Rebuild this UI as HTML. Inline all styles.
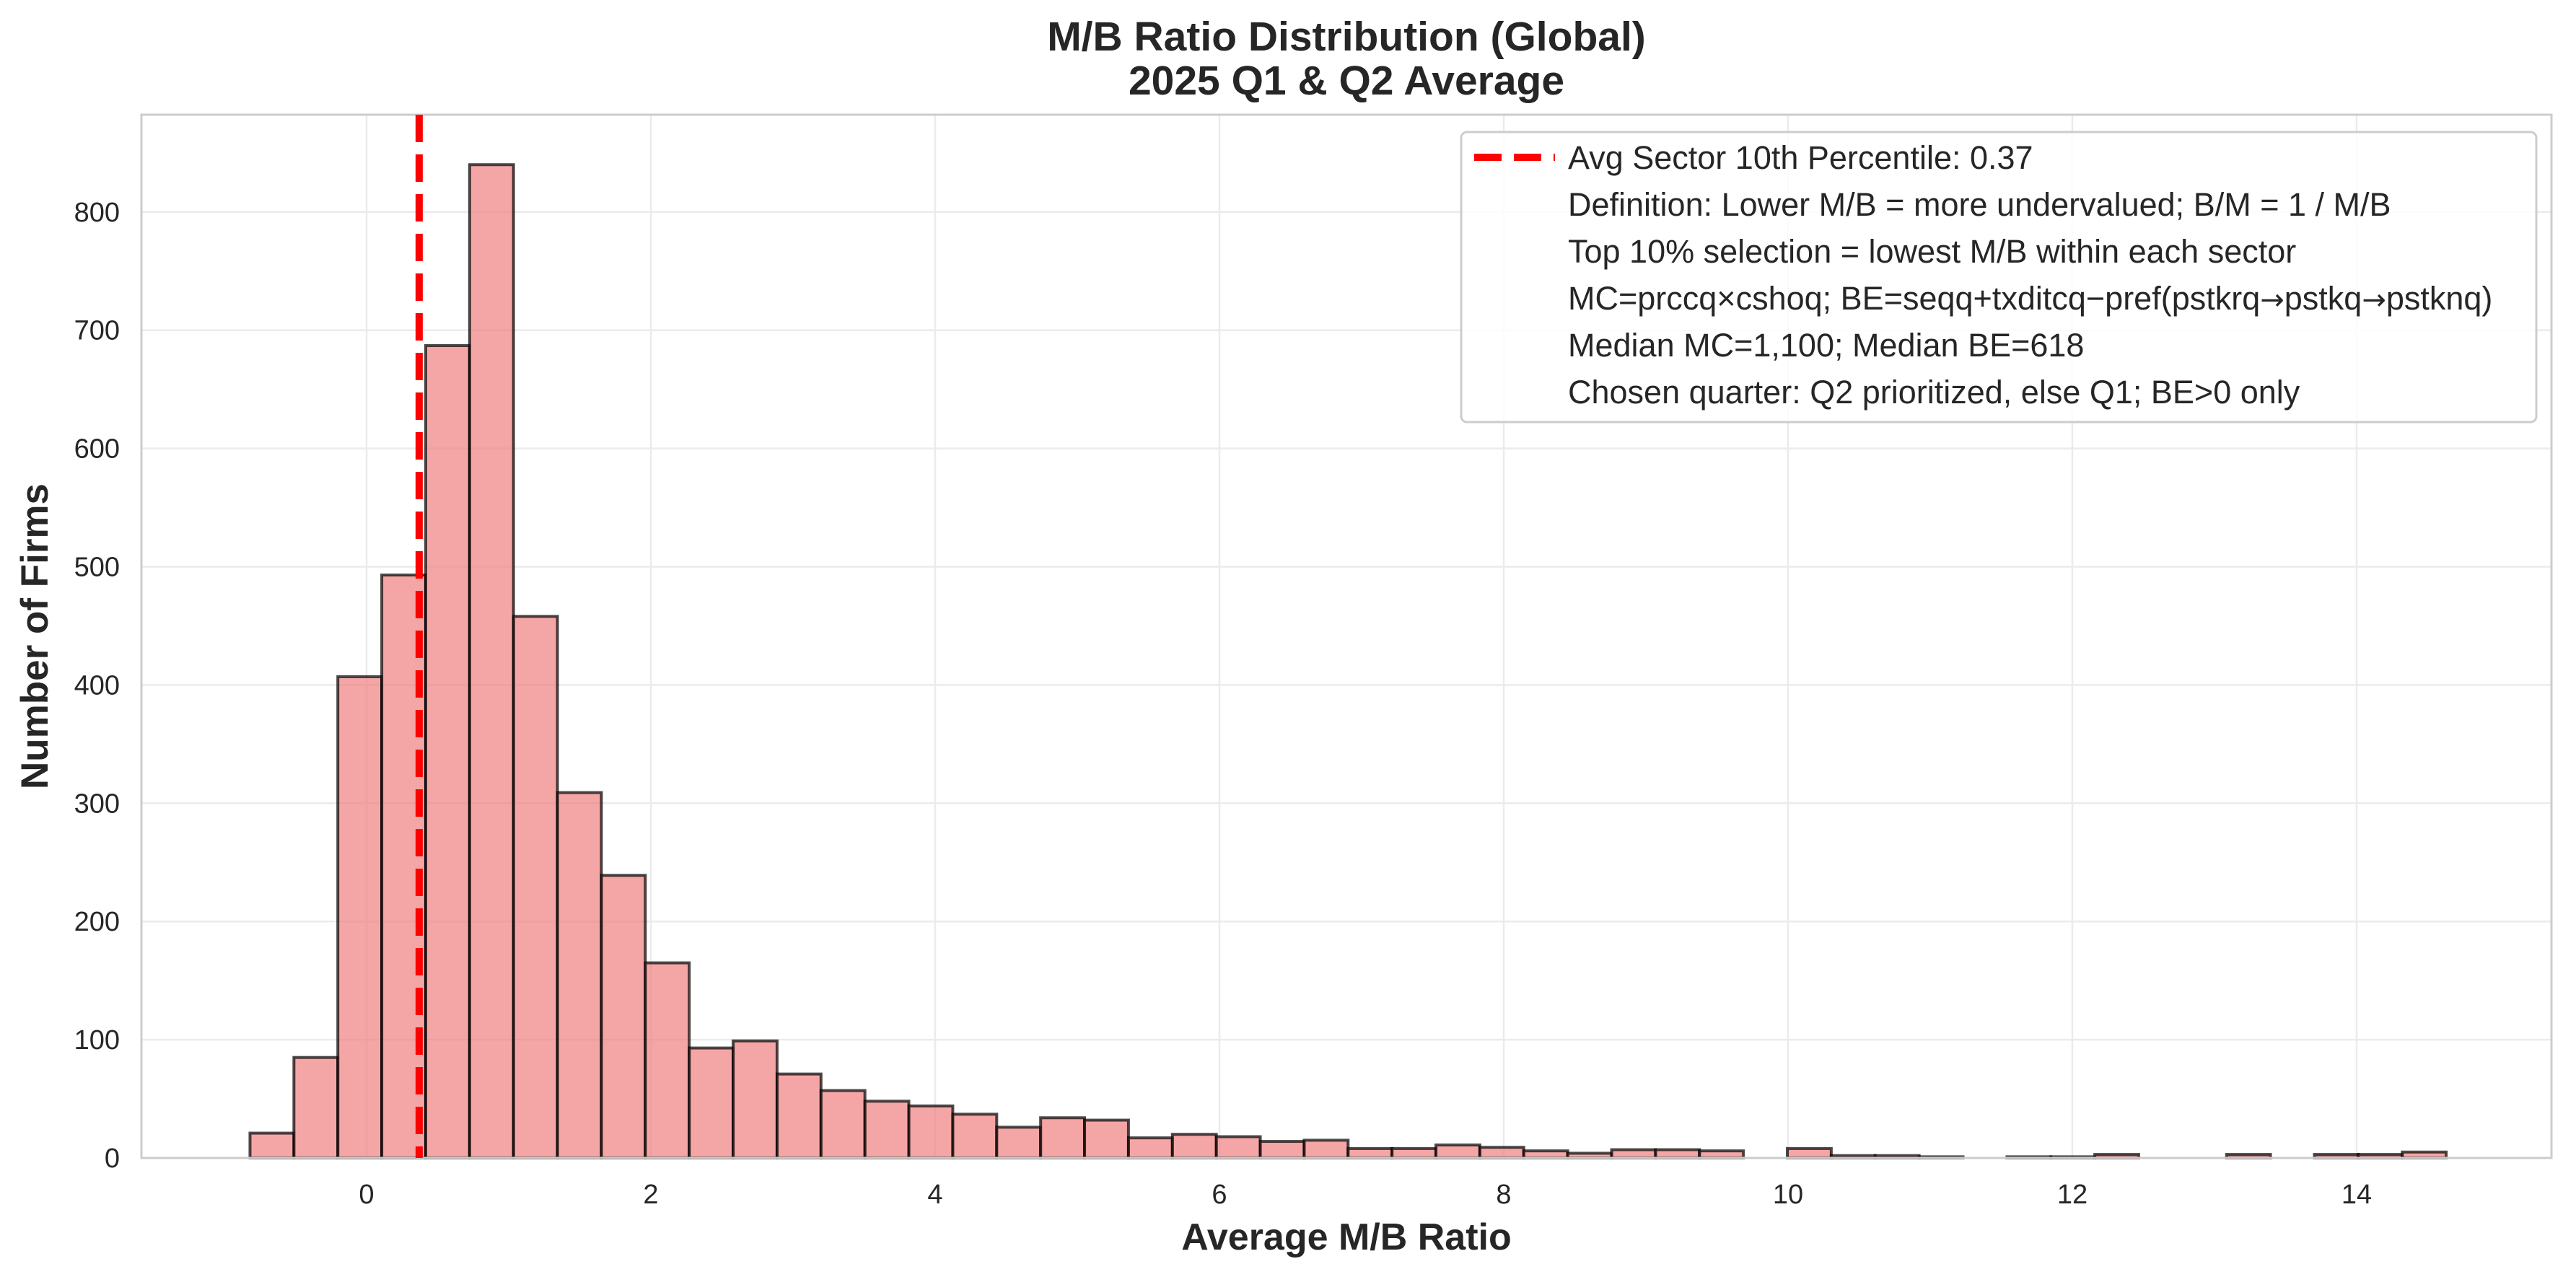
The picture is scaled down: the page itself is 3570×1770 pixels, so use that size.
<!DOCTYPE html>
<html><head><meta charset="utf-8"><style>
html,body{margin:0;padding:0;background:#fff;}
svg{display:block;font-family:"Liberation Sans",Arial,sans-serif;}
</style></head><body>
<svg id="chart" width="3570" height="1770" viewBox="0 0 3570 1770" xmlns="http://www.w3.org/2000/svg">
<rect width="3570" height="1770" fill="#fff"/>
<g id="grid"></g>
<g id="bars"></g>
<g id="ticks"></g>
<rect x="196" y="159" width="3340" height="1446" fill="none" stroke="#cccccc" stroke-width="3"/>
<text x="1866" y="70" text-anchor="middle" font-size="57" font-weight="bold" fill="#262626">M/B Ratio Distribution (Global)</text>
<text x="1866" y="131" text-anchor="middle" font-size="57" font-weight="bold" fill="#262626">2025 Q1 &amp; Q2 Average</text>
<text x="1866" y="1732" text-anchor="middle" font-size="52" font-weight="bold" fill="#262626">Average M/B Ratio</text>
<text transform="translate(66,882) rotate(-90)" text-anchor="middle" font-size="53" font-weight="bold" fill="#262626">Number of Firms</text>
<g>
<rect x="2025" y="183" width="1490" height="402" rx="8" fill="#fff" fill-opacity="0.85" stroke="#cccccc" stroke-width="3"/>
<line x1="2043" y1="218" x2="2155" y2="218" stroke="#ff0000" stroke-width="10" stroke-dasharray="38 17"/>
<g font-size="45" fill="#262626">
<text x="2173" y="234">Avg Sector 10th Percentile: 0.37</text>
<text x="2173" y="299">Definition: Lower M/B = more undervalued; B/M = 1 / M/B</text>
<text x="2173" y="364">Top 10% selection = lowest M/B within each sector</text>
<text x="2173" y="429">MC=prccq×cshoq; BE=seqq+txditcq−pref(pstkrq<tspan font-family="DejaVu Sans" font-size="40">→</tspan>pstkq<tspan font-family="DejaVu Sans" font-size="40">→</tspan>pstknq)</text>
<text x="2173" y="494">Median MC=1,100; Median BE=618</text>
<text x="2173" y="559">Chosen quarter: Q2 prioritized, else Q1; BE&gt;0 only</text>
</g>
</g>
<line id="refline" y1="159" y2="1605" stroke="#ff0000" stroke-width="10" stroke-dasharray="38 17"/>
</svg>
<script>
const binStart = -0.82;
const binWidth = 0.309;
const counts = [21,85,407,493,687,840,458,309,239,165,93,99,71,57,48,44,37,26,34,32,17,20,18,14,15,8,8,11,9,6,4,7,7,6,0,8,2,2,1,0,1,1,3,0,0,3,0,3,3,5];
const xTicks = [0,2,4,6,8,10,12,14];
const yTicks = [0,100,200,300,400,500,600,700,800];
const percentile10 = 0.37;

const L=196,R=3536,T=159,B=1605;
const xs = v => 508 + v*197;
const ys = v => B - v*1.639;
const NS="http://www.w3.org/2000/svg";
function mk(tag,attrs,parent){const e=document.createElementNS(NS,tag);for(const k in attrs)e.setAttribute(k,attrs[k]);parent.appendChild(e);return e;}
const grid=document.getElementById('grid'),bars=document.getElementById('bars'),ticks=document.getElementById('ticks');
xTicks.forEach(t=>{
  const g=mk('line',{x1:xs(t),x2:xs(t),y1:T,y2:B,stroke:'#ebebeb','stroke-width':2.5},grid);
  
  
  const tx=mk('text',{x:xs(t),y:1668,'text-anchor':'middle','font-size':38,fill:'#262626'},ticks);
  tx.textContent=t;
  
  
});
yTicks.forEach(t=>{
  const g=mk('line',{x1:L,x2:R,y1:ys(t),y2:ys(t),stroke:'#ebebeb','stroke-width':2.5},grid);
  
  
  const tx=mk('text',{x:166,y:ys(t)+13,'text-anchor':'end','font-size':38,fill:'#262626'},ticks);
  tx.textContent=t;
  
  
});
counts.forEach((c,i)=>{
  const x0=xs(binStart+i*binWidth),x1=xs(binStart+(i+1)*binWidth);
  const r=mk('rect',{x:x0,y:ys(c),width:x1-x0,height:B-ys(c),fill:'#f08080','fill-opacity':0.7,stroke:'#000','stroke-opacity':0.7,'stroke-width':4},bars);
  
  
});
const rl=document.getElementById('refline');
rl.setAttribute('x1',xs(percentile10));rl.setAttribute('x2',xs(percentile10));
</script>
</body></html>
